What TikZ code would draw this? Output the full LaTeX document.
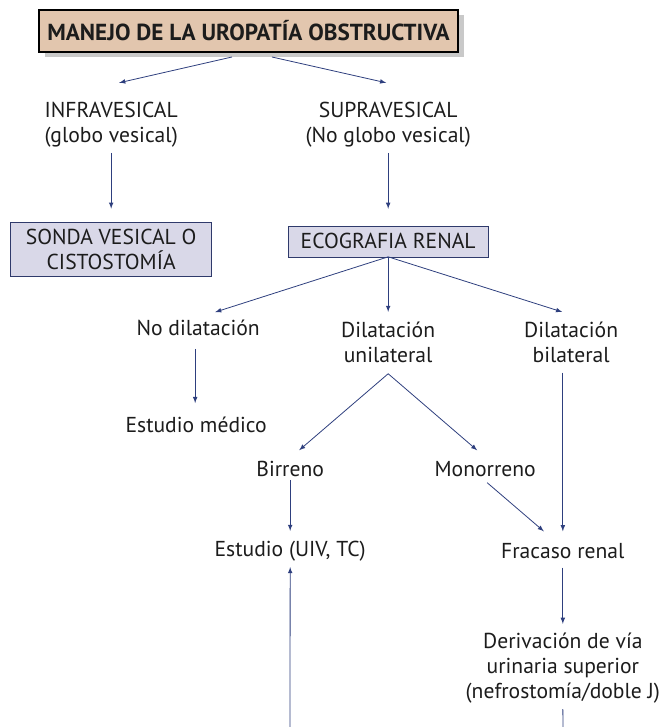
\documentclass[tikz,border=0pt]{standalone}
\usepackage{fontspec}
\setmainfont{PT Sans}
\usepackage{tikz}
\usetikzlibrary{arrows,shapes,shadows,calc}
\definecolor{manejofill}{HTML}{E2C6AE}
\definecolor{shadowgray}{HTML}{C9C9C9}
\definecolor{boxfill}{HTML}{D9D8E8}
\definecolor{boxline}{HTML}{2F3A6B}
\definecolor{arrowcol}{HTML}{2E3F7E}
\definecolor{inkcol}{HTML}{1C1C1C}

\begin{document}
\begin{tikzpicture}[x=0.75pt,y=-0.75pt]
\tikzstyle{main}=[rectangle, inner sep=4.5pt, outer sep=0pt, text=inkcol, align=center, font=\fontsize{16.2}{18.75}\selectfont]
\tikzstyle{head}=[main, draw=black, thick, fill=manejofill, font=\bfseries\fontsize{17.4}{20}\selectfont, minimum width=314.25pt, minimum height=31.5pt, drop shadow={shadow xshift=4.5pt, shadow yshift=-3.75pt, fill=shadowgray, opacity=1}]
\tikzstyle{rect}=[main, draw=boxline, fill=boxfill, minimum width=150pt]
\tikzstyle{connect}=[-latex, semithick, draw=arrowcol]

  \useasboundingbox (0,0) rectangle (661,727);

  \node[head] (manejo) at (248.5,31) {MANEJO DE LA UROPATÍA OBSTRUCTIVA};

  \node[main] (infra) [below of =manejo, node distance=70pt, xshift=-103pt] {INFRAVESICAL\\(globo vesical)};
  \node[main] (supra) [right of =infra, node distance=207.75pt]           {SUPRAVESICAL\\(No globo vesical)};

  \node[rect, minimum width=150.75pt, minimum height=40.5pt] (sonda) [below of =infra, node distance=94pt] {SONDA VESICAL O\\CISTOSTOMÍA};
  \node[rect, minimum height=23.25pt] (eco) [below of =supra, node distance=87.75pt] {ECOGRAFIA RENAL};

  \node[main] (nodil)   [below of =eco,     node distance=65pt, xshift=-142.5pt] {No dilatación};
  \node[main] (unil)    [below of =eco,     node distance=75.75pt]              {Dilatación\\unilateral};
  \node[main] (bil)     [right of =unil,    node distance=137.25pt]             {Dilatación\\bilateral};
  \node[main] (estmed)  [below of =nodil,   node distance=72.75pt, xshift=-1.5pt] {Estudio médico};

  \node[main] (birreno) [below of =unil,    node distance=95pt, xshift=-73.5pt] {Birreno};
  \node[main] (mono)    [right of =birreno, node distance=146.25pt]             {Monorreno};
  \node[main] (estudio) [below of =birreno, node distance=61.5pt]               {Estudio (UIV, TC)};
  \node[main] (fracaso) [right of =estudio, node distance=204.5pt]              {Fracaso renal};
  \node[main] (deriv)   [below of =fracaso, node distance=87.75pt]              {Derivación de vía\\urinaria superior\\(nefrostomía/doble J)};

  % lines leaving the page
  \coordinate (estudioin) at (290,727);
  \coordinate (derivout)  at (563,727);

  \path ([xshift=-12.4pt, yshift=-3.75pt]manejo.south) edge [connect] ([xshift=6pt, yshift=9.75pt]infra.north);
  \path ([xshift=17.6pt, yshift=-3.75pt]manejo.south)  edge [connect] ([xshift=-1.5pt, yshift=9.75pt]supra.north);
  \path (infra.south) edge [connect, shorten >=10.5pt] (sonda.north);
  \path (supra.south) edge [connect, shorten >=12.75pt] (eco.north);

  \path (eco.south) edge [connect] ([xshift=12.75pt, yshift=1.5pt]nodil.north);
  \path (eco.south) edge [connect] ([yshift=3pt]unil.north);
  \path (eco.south) edge [connect] ([xshift=-6.75pt, yshift=3pt]bil.north);
  \path ([xshift=-2.25pt, yshift=-5.25pt]nodil.south) edge [connect] ([xshift=-0.75pt, yshift=6pt]estmed.north);

  \path ([yshift=-3.75pt]unil.south) edge [connect] ([xshift=6.75pt, yshift=3.75pt]birreno.north);
  \path ([yshift=-3.75pt]unil.south) edge [connect] ([xshift=-6pt, yshift=3.75pt]mono.north);
  \path ([yshift=2.25pt]birreno.south) edge [connect] ([yshift=3pt]estudio.north);
  \path ([xshift=1.5pt]mono.south) edge [connect] ([xshift=-14.25pt, yshift=4.5pt]fracaso.north);
  \path (bil.south -| fracaso.north) edge [connect, shorten <=3pt] ([yshift=4.5pt]fracaso.north);
  \path ([yshift=-2.25pt]fracaso.south) edge [connect] ([yshift=2.25pt]deriv.north);

  \path (estudioin) edge [connect] (estudio.south);
  \path (deriv.south) edge [semithick, draw=arrowcol] (derivout);

\end{tikzpicture}
\end{document}
